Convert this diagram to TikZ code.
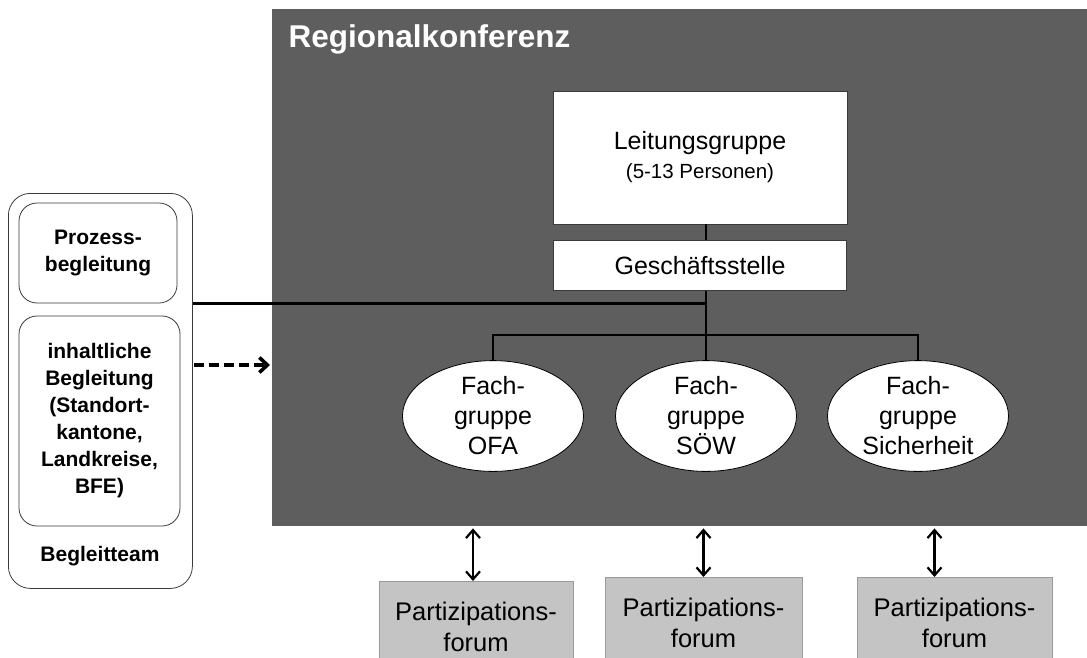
\documentclass[tikz,border=0pt]{standalone}
\usepackage{fontspec}
\setmainfont{Liberation Sans}
\usepackage{tikz}
\usetikzlibrary{arrows.meta,positioning,shapes.geometric}
\usepackage{xcolor}
\definecolor{rkdark}{HTML}{5E5E5E}
\definecolor{rkforum}{HTML}{C4C4C4}
\definecolor{rkedge}{HTML}{9A9A9A}
\definecolor{rkline}{HTML}{3A3A3A}

\begin{document}
\begin{tikzpicture}[
  x=1pt, y=-1pt,
  whitebox/.style={
    rectangle, draw=rkline, fill=white, line width=0.8pt,
    align=center, inner sep=0pt
  },
  fachgruppe/.style={
    ellipse, draw=black, fill=white, line width=0.8pt,
    minimum width=181pt, minimum height=102pt, inner sep=0pt,
    align=center, font=\fontsize{25}{30}\selectfont
  },
  forum/.style={
    rectangle, draw=rkedge, fill=rkforum, line width=0.8pt,
    minimum height=90pt, anchor=north, align=center,
    font=\fontsize{25.5}{31}\selectfont
  },
  teambox/.style={
    rectangle, draw=rkline, rounded corners=18pt, line width=0.8pt,
    align=center, inner sep=0pt, font=\bfseries\fontsize{21}{27}\selectfont
  },
  link/.style={line width=2.4pt, color=black},
  both/.style={{Straight Barb[length=8pt,width=14pt]}-{Straight Barb[length=8pt,width=14pt]}, line width=2.2pt},
  hint/.style={-{Straight Barb[length=8pt,width=15pt]}, line width=3.6pt, dash pattern=on 10pt off 5pt},
]
  \useasboundingbox (0,0) rectangle (1087,657);
  \clip (0,0) rectangle (1087,657);

  % Regionalkonferenz
  \node[fill=rkdark, inner sep=0pt, minimum width=815pt, minimum height=517pt, anchor=north west] (rk) at (272,9) {};
  \node[anchor=base west, text=white, font=\bfseries\fontsize{31.5}{36}\selectfont] (title) at (285,47) {Regionalkonferenz};

  \node[whitebox, minimum width=294pt, minimum height=133pt, font=\fontsize{25}{29}\selectfont] (leit) at (700,157.5)
    {Leitungsgruppe\\{\fontsize{20.5}{24}\selectfont (5-13 Personen)}};
  \node[whitebox, minimum width=293pt, minimum height=50pt, below=16pt of leit, font=\fontsize{25}{29}\selectfont] (gs) {Geschäftsstelle};

  \node[fachgruppe] (fg1) at (493,416) {Fach-\\gruppe\\OFA};
  \node[fachgruppe] (fg2) at (706,416) {Fach-\\gruppe\\SÖW};
  \node[fachgruppe] (fg3) at (918,416) {Fach-\\gruppe\\Sicherheit};
  \coordinate (bar) at (706,335);

  % Begleitteam
  \node[teambox, rounded corners=22pt, minimum width=184pt, minimum height=395pt, anchor=north west] (team) at (8,193) {};
  \node[teambox, minimum width=158pt, minimum height=100pt] (proz) at (98,253) {Prozess-\\begleitung};
  \node[teambox, minimum width=161pt, minimum height=210pt] (inh) at (99.5,421)
    {inhaltliche\\Begleitung\\(Standort-\\kantone,\\Landkreise,\\BFE)};
  \node[font=\bfseries\fontsize{21}{27}\selectfont] (teamlabel) at (100,556) {Begleitteam};
  \coordinate (hintstart) at (194,365);

  % Partizipationsforen
  \node[forum, minimum width=194pt] (pf1) at (476,581) {Partizipations-\\forum};
  \node[forum, minimum width=197pt] (pf2) at (703.5,577) {Partizipations-\\forum};
  \node[forum, minimum width=195pt] (pf3) at (954.5,577) {Partizipations-\\forum};

  % Lines
  \draw[link] (leit.south -| bar) -- (gs.north -| bar);
  \draw[link] (gs.south -| bar) -- (bar);
  \draw[link] (fg1.north) |- (bar) -| (fg3.north);
  \draw[link] (bar) -- (fg2.north);
  \draw[link] (proz.south -| team.east) -- (proz.south -| bar);
  \draw[hint, shorten >=2pt] (hintstart) -- (hintstart -| rk.west);
  \draw[both, shorten <=2pt] ([xshift=-3pt]pf1.north |- rk.south) -- ([xshift=-3pt]pf1.north);
  \draw[both, shorten <=2pt] (pf2.north |- rk.south) -- (pf2.north);
  \draw[both, shorten <=2pt] ([xshift=-20pt]pf3.north |- rk.south) -- ([xshift=-20pt]pf3.north);
\end{tikzpicture}
\end{document}
